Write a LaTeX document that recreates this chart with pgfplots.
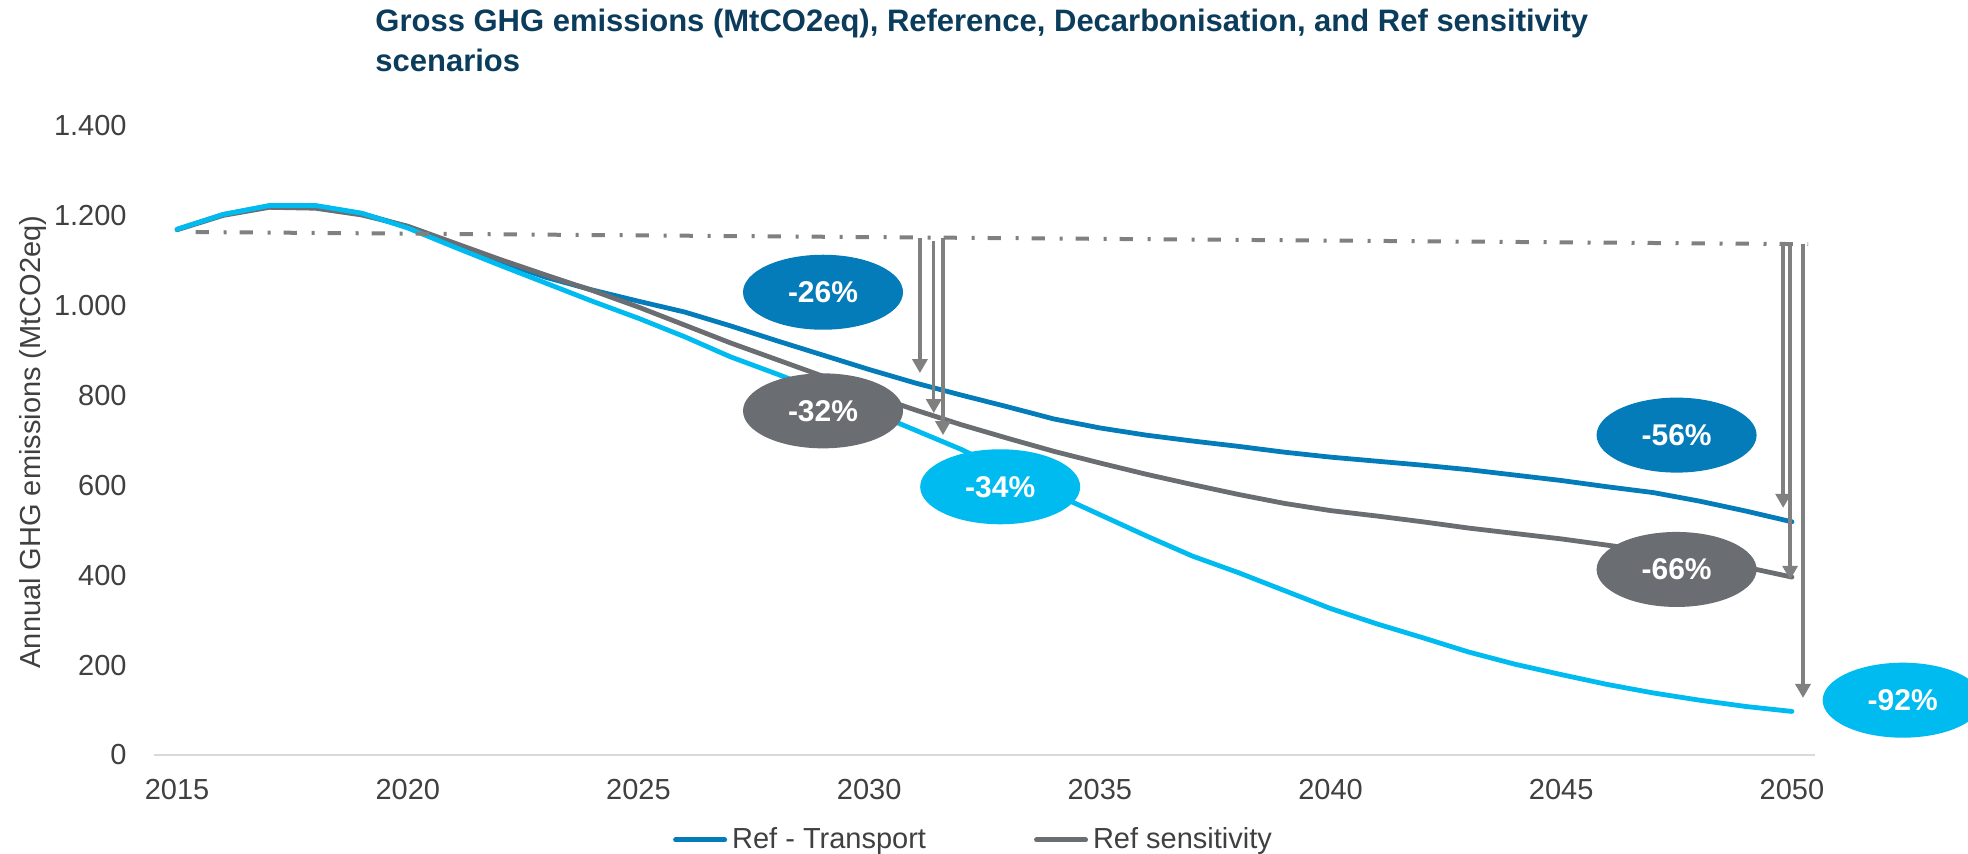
\documentclass[border=0pt]{standalone}
\usepackage{fontspec}
\setmainfont{Liberation Sans}
\usepackage{pgfplots}
\pgfplotsset{compat=1.18}
\usepackage{pgfplotstable}
\usetikzlibrary{arrows.meta,shapes.geometric}

\definecolor{refblue}{RGB}{4,124,186}
\definecolor{sensgray}{RGB}{106,109,113}
\definecolor{decarb}{RGB}{0,187,240}
\definecolor{arrowgray}{RGB}{128,128,128}
\definecolor{titleblue}{RGB}{12,60,92}
\definecolor{txtgray}{RGB}{64,64,64}
\definecolor{zeroline}{RGB}{217,217,217}

% year, Ref - Transport, Ref sensitivity, Decarbonisation
\pgfplotstableread{
year transport sensitivity decarb
2015 1170 1169 1170
2016 1203 1201 1203
2017 1222 1219 1223
2018 1222 1217 1223
2019 1205 1202 1206
2020 1176 1177 1173
2021 1137 1140 1131
2022 1098 1103 1090
2023 1063 1068 1050
2024 1035 1034 1010
2025 1010 997 972
2026 986 957 931
2027 955 917 886
2028 922 880 848
2029 890 843 808
2030 858 803 766
2031 828 768 723
2032 801 735 680
2033 775 705 630
2034 748 676 582
2035 728 650 535
2036 712 625 488
2037 699 602 443
2038 687 580 406
2039 674 560 366
2040 663 544 326
2041 654 532 292
2042 645 519 261
2043 635 505 229
2044 623 493 202
2045 611 481 179
2046 597 467 157
2047 584 453 138
2048 565 437 122
2049 543 418 108
2050 519 396 97
}\ghg

\newcommand{\lbl}{\fontsize{14.5}{17}\selectfont}
\newcommand{\pct}{\fontsize{15}{18}\selectfont\bfseries}

\begin{document}
\begin{tikzpicture}
\useasboundingbox (0,0) rectangle (984pt,426.5pt);

% title
\node[anchor=base west, inner sep=0pt, text=titleblue, font=\fontsize{15.5}{18}\selectfont\bfseries]
  at (187.5pt,410.5pt) {Gross GHG emissions (MtCO2eq), Reference, Decarbonisation, and Ref sensitivity};
\node[anchor=base west, inner sep=0pt, text=titleblue, font=\fontsize{15.5}{18}\selectfont\bfseries]
  at (187.5pt,390.5pt) {scenarios};

% y label
\node[rotate=90, anchor=center, inner sep=0pt, text=txtgray, font=\lbl]
  at (16.75pt,205.5pt) {Annual GHG emissions (MtCO2eq)};

\begin{axis}[
  at={(77pt,49pt)}, anchor=south west,
  scale only axis, width=830.5pt, height=314.5pt,
  xmin=2014.5, xmax=2050.5, ymin=0, ymax=1400,
  clip=false,
  axis line style={draw=none},
  tick style={draw=none},
  major tick length=0pt,
  xtick={2015,2020,2025,2030,2035,2040,2045,2050},
  xticklabels={2015,2020,2025,2030,2035,2040,2045,2050},
  ytick={0,200,400,600,800,1000,1200,1400},
  yticklabels={0,200,400,600,800,1.000,1.200,1.400},
  xticklabel style={anchor=north, inner sep=0pt, yshift=-11.75pt, font=\lbl, text=txtgray},
  yticklabel style={anchor=east, inner sep=0pt, xshift=-13.5pt, font=\lbl, text=txtgray},
  legend columns=2,
  legend style={at={(0.4928,-0.1351)}, anchor=center, draw=none, fill=none,
    inner sep=0pt, font=\lbl, text=txtgray,
    nodes={inner sep=0pt},
    /tikz/every odd column/.append style={column sep=2.5pt},
    /tikz/every even column/.append style={column sep=54pt}},
  legend image code/.code={\draw[#1, line width=2.5pt, line cap=round] (1.25pt,0pt) -- (25.75pt,0pt);},
]
% zero line
\draw[zeroline, line width=1pt] (axis cs:2014.5,0) -- (axis cs:2050.5,0);

\addplot[refblue, line width=2.4pt, line cap=round, line join=round] table[x=year, y=transport] {\ghg};
\addlegendentry{Ref - Transport}
\addplot[sensgray, line width=2.4pt, line cap=round, line join=round] table[x=year, y=sensitivity] {\ghg};
\addlegendentry{Ref sensitivity}
\addplot[decarb, line width=2.4pt, line cap=round, line join=round, forget plot] table[x=year, y=decarb] {\ghg};

% reference level (dash-dot)
\addplot[arrowgray, line width=2pt, dash pattern=on 6.7pt off 7.3pt on 1.5pt off 6.5pt, forget plot]
  coordinates {(2015.4,1164) (2050.35,1137)};

% reduction arrows
\begin{scope}[arrowgray, line width=1.7pt, -{Triangle[width=7.5pt,length=7pt]}]
\draw (axis cs:2031.1,1150) -- (axis cs:2031.1,850);
\draw (axis cs:2031.4,1143) -- (axis cs:2031.4,761);
\draw (axis cs:2031.6,1150) -- (axis cs:2031.6,712);
\draw (axis cs:2049.81,1137) -- (axis cs:2049.81,550);
\draw (axis cs:2049.96,1137) -- (axis cs:2049.96,390);
\draw (axis cs:2050.24,1137) -- (axis cs:2050.24,127);
\end{scope}

% labels
\begin{scope}[every node/.style={ellipse, minimum width=80pt, minimum height=37.5pt, inner sep=0pt, text=white, font=\pct}]
\node[fill=refblue] at (axis cs:2029.0,1030) {-26\%};
\node[fill=sensgray] at (axis cs:2029.0,766) {-32\%};
\node[fill=decarb] at (axis cs:2032.84,597) {-34\%};
\node[fill=refblue] at (axis cs:2047.5,712) {-56\%};
\node[fill=sensgray] at (axis cs:2047.5,413) {-66\%};
\node[fill=decarb] at (axis cs:2052.4,122) {-92\%};
\end{scope}
\end{axis}
\end{tikzpicture}
\end{document}
